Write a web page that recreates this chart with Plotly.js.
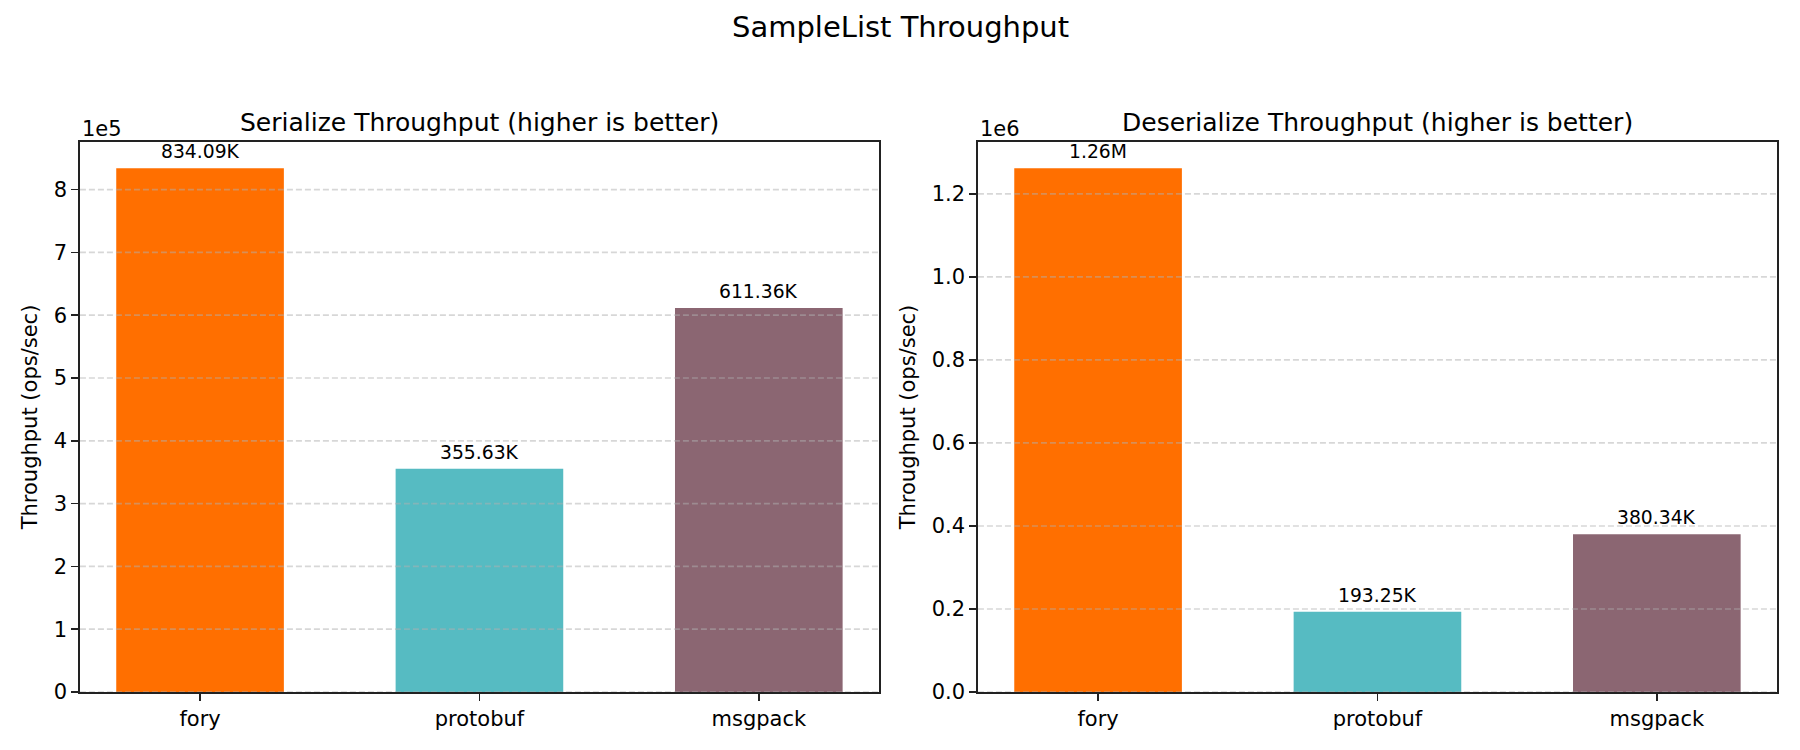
<!DOCTYPE html>
<html>
<head>
<meta charset="utf-8">
<script src="https://cdn.plot.ly/plotly-3.0.1.min.js"></script>
<style>
  html, body { margin: 0; padding: 0; background: #fff; }
  #chart { width: 1800px; height: 750px; }
</style>
</head>
<body>
<div id="chart"></div>
<script>
// Benchmark results (ops/sec)
const libraries = ['fory', 'protobuf', 'msgpack'];
const serializeOps = [834090, 355630, 611360];
const deserializeOps = [1262000, 193250, 380340];
const barColors = ['#FF6F00', '#56BBC2', '#8B6672'];

// y tick labels in the scaled (offset) units, as matplotlib shows them
const serTickVals = [0, 1e5, 2e5, 3e5, 4e5, 5e5, 6e5, 7e5, 8e5];
const serTickText = ['0', '1', '2', '3', '4', '5', '6', '7', '8'];
const desTickVals = [0, 2e5, 4e5, 6e5, 8e5, 10e5, 12e5];
const desTickText = ['0.0', '0.2', '0.4', '0.6', '0.8', '1.0', '1.2'];

const FONT = 'DejaVu Sans, sans-serif';
const AXIS_COLOR = '#222';

// Format like "834.09K" / "1.26M"
function fmtOps(v) {
  if (v >= 1e6) return (v / 1e6).toFixed(2) + 'M';
  return (v / 1e3).toFixed(2) + 'K';
}

function makeBar(values, xa, ya) {
  return {
    type: 'bar',
    x: libraries,
    y: values,
    width: 0.6,
    xaxis: xa,
    yaxis: ya,
    marker: { color: barColors, line: { width: 0 } },
    hoverinfo: 'x+y',
    showlegend: false
  };
}

function xAxisCfg(domain) {
  return {
    domain: domain,
    type: 'category',
    range: [-0.43, 2.43],
    showline: true, mirror: true, linecolor: AXIS_COLOR, linewidth: 1.7,
    ticks: 'outside', ticklen: 7, tickwidth: 1.7, tickcolor: AXIS_COLOR,
    showgrid: false, zeroline: false,
    tickfont: { family: FONT, size: 21, color: '#000' },
    fixedrange: true
  };
}

function yAxisCfg(anchor, values, tickVals, tickText) {
  return {
    domain: [0.0773, 0.8107],
    anchor: anchor,
    range: [0, Math.max(...values) * 1.05],
    tickmode: 'array',
    tickvals: tickVals,
    ticktext: tickText,
    showline: true, mirror: true, linecolor: AXIS_COLOR, linewidth: 1.7,
    ticks: 'outside', ticklen: 7, tickwidth: 1.7, tickcolor: AXIS_COLOR,
    showgrid: false, zeroline: false,
    tickfont: { family: FONT, size: 21, color: '#000' },
    title: { text: 'Throughput (ops/sec)', font: { family: FONT, size: 21, color: '#000' }, standoff: 10 },
    fixedrange: true
  };
}

// dashed grid lines drawn over the bars (matplotlib default axisbelow='line')
function gridShapes(tickVals, xref, yref) {
  return tickVals.map(v => ({
    type: 'line', layer: 'above',
    xref: xref, yref: yref,
    x0: 0, x1: 1, y0: v, y1: v,
    line: { color: 'rgba(176,176,176,0.5)', width: 1.7, dash: '6px,3px' }
  }));
}

function valueLabels(values, xref, yref) {
  return values.map((v, i) => ({
    x: libraries[i], y: v, xref: xref, yref: yref,
    text: fmtOps(v), showarrow: false,
    xanchor: 'center', yanchor: 'bottom', yshift: 4,
    font: { family: FONT, size: 18.75, color: '#000' }
  }));
}

const traces = [
  makeBar(serializeOps, 'x', 'y'),
  makeBar(deserializeOps, 'x2', 'y2')
];

const annotations = [
  { text: 'SampleList Throughput', xref: 'paper', yref: 'paper', x: 0.5, y: 1 - 8 / 750,
    xanchor: 'center', yanchor: 'top', showarrow: false,
    font: { family: FONT, size: 29, color: '#000' } },
  { text: 'Serialize Throughput (higher is better)', xref: 'x domain', yref: 'y domain', x: 0.5, y: 1,
    xanchor: 'center', yanchor: 'bottom', yshift: 3, showarrow: false,
    font: { family: FONT, size: 25, color: '#000' } },
  { text: 'Deserialize Throughput (higher is better)', xref: 'x2 domain', yref: 'y2 domain', x: 0.5, y: 1,
    xanchor: 'center', yanchor: 'bottom', yshift: 3, showarrow: false,
    font: { family: FONT, size: 25, color: '#000' } },
  { text: '1e5', xref: 'x domain', yref: 'y domain', x: 0, y: 1,
    xanchor: 'left', yanchor: 'bottom', yshift: -1, showarrow: false,
    font: { family: FONT, size: 21, color: '#000' } },
  { text: '1e6', xref: 'x2 domain', yref: 'y2 domain', x: 0, y: 1,
    xanchor: 'left', yanchor: 'bottom', yshift: -1, showarrow: false,
    font: { family: FONT, size: 21, color: '#000' } }
].concat(valueLabels(serializeOps, 'x', 'y'), valueLabels(deserializeOps, 'x2', 'y2'));

const layout = {
  width: 1800,
  height: 750,
  paper_bgcolor: '#fff',
  plot_bgcolor: '#fff',
  margin: { t: 0, r: 0, b: 0, l: 0 },
  font: { family: FONT, color: '#000' },
  xaxis: xAxisCfg([0.0444, 0.4883]),
  yaxis: yAxisCfg('x', serializeOps, serTickVals, serTickText),
  xaxis2: xAxisCfg([0.5433, 0.9872]),
  yaxis2: yAxisCfg('x2', deserializeOps, desTickVals, desTickText),
  shapes: gridShapes(serTickVals, 'x domain', 'y').concat(gridShapes(desTickVals, 'x2 domain', 'y2')),
  annotations: annotations,
  bargap: 0.4
};
layout.xaxis.anchor = 'y';
layout.xaxis2.anchor = 'y2';

Plotly.newPlot('chart', traces, layout, { displayModeBar: false, staticPlot: true });
</script>
</body>
</html>
